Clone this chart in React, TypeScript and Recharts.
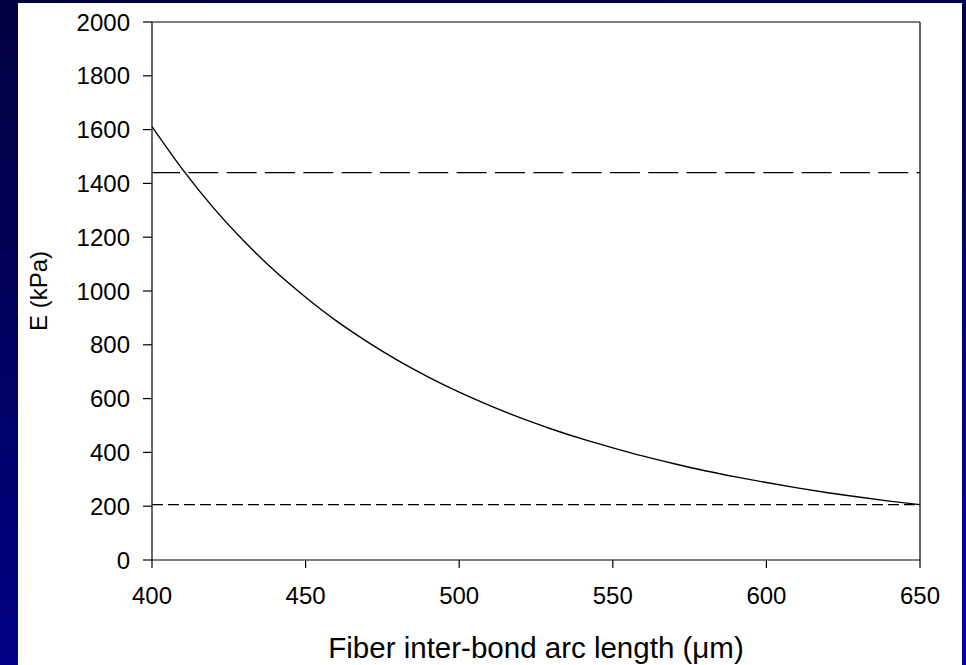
import React from 'react';
import { LineChart, Line, XAxis, YAxis, ReferenceLine, Label } from 'recharts';

// Fiber inter-bond arc length (µm)
const arcLengths = [
  400, 410, 420, 430, 440, 450, 460, 470, 480, 490, 500, 510, 520,
  530, 540, 550, 560, 570, 580, 590, 600, 610, 620, 630, 640, 650,
];

// Elastic modulus E (kPa) at each arc length
const modulusKPa = [
  1611, 1451, 1309, 1185, 1074, 977, 889, 812, 742, 680, 624, 574, 528,
  487, 450, 417, 386, 358, 332, 309, 288, 268, 250, 234, 219, 206,
];

// Horizontal bounds of the measured modulus range (kPa)
const upperBoundKPa = 1440;
const lowerBoundKPa = 206;

const xTicks = [400, 450, 500, 550, 600, 650];
const yTicks = [0, 200, 400, 600, 800, 1000, 1200, 1400, 1600, 1800, 2000];

const data = arcLengths.map((length, i) => ({ length, modulus: modulusKPa[i] }));

const FONT = '"Liberation Sans", Arial, Helvetica, sans-serif';

const YTitle = (props: any) => {
  const vb = props.viewBox;
  const cx = 38;
  const cy = vb.y + vb.height / 2;
  return (
    <text
      x={cx}
      y={cy}
      transform={`rotate(-90, ${cx}, ${cy})`}
      textAnchor="middle"
      dominantBaseline="central"
      fontFamily={FONT}
      fontSize={24}
      fill="#000"
    >
      E (kPa)
    </text>
  );
};

const XTitle = (props: any) => {
  const vb = props.viewBox;
  return (
    <text
      x={vb.x + vb.width / 2}
      y={658}
      textAnchor="middle"
      fontFamily={FONT}
      fontSize={29.5}
      fill="#000"
    >
      Fiber inter-bond arc length (μm)
    </text>
  );
};

export default function App() {
  return (
    <div
      style={{
        position: 'absolute',
        left: 0,
        top: 0,
        width: 966,
        height: 665,
        overflow: 'hidden',
        background: 'linear-gradient(170deg, #00003e 0%, #00006a 50%, #00009a 100%)',
      }}
    >
      <div
        style={{
          position: 'absolute',
          left: 18,
          top: 3,
          width: 944,
          height: 662,
          background: '#ffffff',
        }}
      />
      <div style={{ position: 'absolute', left: 0, top: 0 }}>
        <LineChart
          width={966}
          height={665}
          data={data}
          margin={{ top: 22, right: 46, left: 0, bottom: 0 }}
        >
          <XAxis
            dataKey="length"
            type="number"
            domain={[400, 650]}
            ticks={xTicks}
            allowDataOverflow
            height={105}
            tickSize={8}
            tickMargin={19}
            stroke="#000"
            tick={{ fill: '#000', fontSize: 24, fontFamily: FONT }}
            axisLine={{ stroke: '#000', strokeWidth: 1.2 }}
            tickLine={{ stroke: '#000', strokeWidth: 1.2 }}
          >
            <Label content={XTitle} />
          </XAxis>
          <YAxis
            type="number"
            domain={[0, 2000]}
            ticks={yTicks}
            allowDataOverflow
            width={152}
            tickSize={9}
            tickMargin={13}
            stroke="#000"
            tick={{ fill: '#000', fontSize: 24, fontFamily: FONT }}
            axisLine={{ stroke: '#000', strokeWidth: 1.2 }}
            tickLine={{ stroke: '#000', strokeWidth: 1.2 }}
          >
            <Label content={YTitle} />
          </YAxis>
          {/* plot frame: top and right edges */}
          <ReferenceLine y={2000} stroke="#000" strokeWidth={1.2} />
          <ReferenceLine x={650} stroke="#000" strokeWidth={1.2} />
          <ReferenceLine
            y={upperBoundKPa}
            stroke="#000"
            strokeWidth={1.2}
            strokeDasharray="30 8.33"
            strokeDashoffset={2}
          />
          <ReferenceLine
            y={lowerBoundKPa}
            stroke="#000"
            strokeWidth={1.2}
            strokeDasharray="11 5"
          />
          <Line
            type="monotone"
            dataKey="modulus"
            stroke="#000"
            strokeWidth={1.4}
            dot={false}
            activeDot={false}
            isAnimationActive={false}
          />
        </LineChart>
      </div>
    </div>
  );
}
